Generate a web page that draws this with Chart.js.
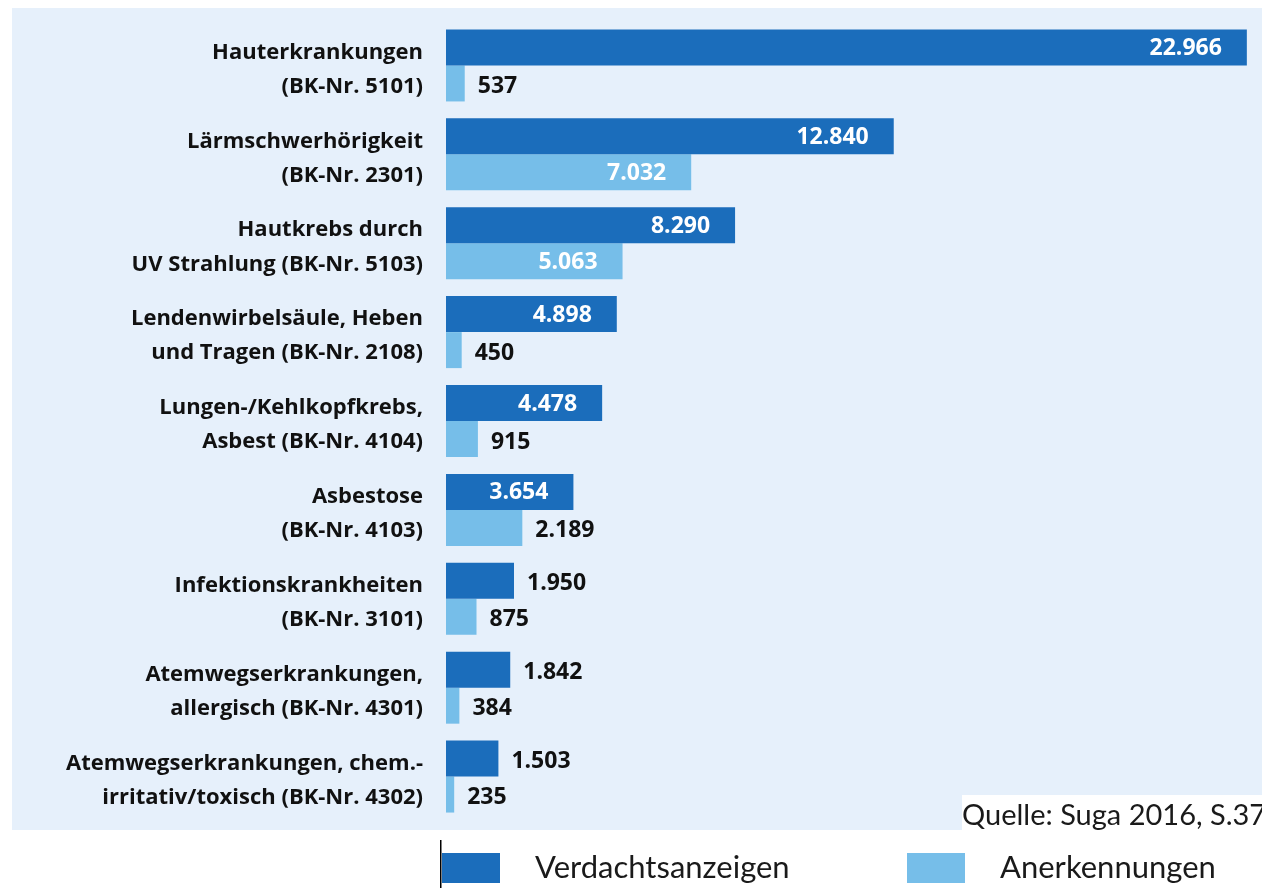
<!DOCTYPE html>
<html>
<head>
<meta charset="utf-8">
<script src="https://cdn.jsdelivr.net/npm/chart.js@4"></script>
<style>
  body { margin: 0; background: #fff; }
  #wrap { width: 1262px; height: 888px; }
</style>
</head>
<body>
<div id="wrap"><canvas id="myChart" width="1262" height="888"></canvas></div>
<script>
'use strict';

// data

let categories = [
  ['Hauterkrankungen', '(BK-Nr. 5101)'],
  ['Lärmschwerhörigkeit', '(BK-Nr. 2301)'],
  ['Hautkrebs durch', 'UV Strahlung (BK-Nr. 5103)'],
  ['Lendenwirbelsäule, Heben', 'und Tragen (BK-Nr. 2108)'],
  ['Lungen-/Kehlkopfkrebs,', 'Asbest (BK-Nr. 4104)'],
  ['Asbestose', '(BK-Nr. 4103)'],
  ['Infektionskrankheiten', '(BK-Nr. 3101)'],
  ['Atemwegserkrankungen,', 'allergisch (BK-Nr. 4301)'],
  ['Atemwegserkrankungen, chem.-', 'irritativ/toxisch (BK-Nr. 4302)']
];
let verdachtsanzeigen = [22966, 12840, 8290, 4898, 4478, 3654, 1950, 1842, 1503];
let anerkennungen = [537, 7032, 5063, 450, 915, 2189, 875, 384, 235];
let seriesNames = ['Verdachtsanzeigen', 'Anerkennungen'];
let sourceText = 'Quelle: Suga 2016, S.37';

// colours

let darkBlue = '#1b6dbb';
let lightBlue = '#76bee9';
let panelColor = '#e6f0fb';
let boldFont = '"Open Sans", Lato, sans-serif';
let lightFont = 'Lato, "Open Sans", sans-serif';

// plugins

let panelPlugin = {
  id: 'panel',
  beforeDraw(chart) {
    let c = chart.ctx;
    c.save();
    c.fillStyle = '#ffffff';
    c.fillRect(0, 0, chart.width, chart.height);
    c.fillStyle = panelColor;
    c.fillRect(12, 8, chart.width - 12, 822);
    c.restore();
  },
  afterDraw(chart) {
    let c = chart.ctx;
    c.save();
    // source box
    c.fillStyle = '#ffffff';
    c.fillRect(962, 795, chart.width - 962, 35);
    c.fillStyle = '#1a1a1a';
    c.font = '29px ' + lightFont;
    c.textBaseline = 'middle';
    c.textAlign = 'left';
    c.fillText(sourceText, 962, 816);
    // legend
    c.fillStyle = '#000';
    c.fillRect(440, 840, 1.5, 48);
    let legendX = [442, 907];
    chart.data.datasets.forEach((ds, i) => {
      c.fillStyle = ds.backgroundColor;
      c.fillRect(legendX[i], 853, 58, 30);
      c.fillStyle = '#1a1a1a';
      c.font = '31px ' + lightFont;
      c.fillText(ds.label, legendX[i] + 93, 868);
    });
    c.restore();
  }
};

let valueLabelPlugin = {
  id: 'valueLabels',
  afterDatasetsDraw(chart) {
    let c = chart.ctx;
    c.save();
    c.font = 'bold 23px ' + boldFont;
    c.textBaseline = 'middle';
    chart.data.datasets.forEach((ds, i) => {
      let meta = chart.getDatasetMeta(i);
      meta.data.forEach((bar, j) => {
        let text = ds.data[j].toLocaleString('de-DE');
        let width = bar.x - bar.base;
        if (width > 100) {
          c.fillStyle = '#ffffff';
          c.textAlign = 'right';
          c.fillText(text, bar.x - 25, bar.y + 1);
        } else {
          c.fillStyle = '#111111';
          c.textAlign = 'left';
          c.fillText(text, bar.x + 13, bar.y + 3);
        }
      });
    });
    c.restore();
  }
};

// chart

const ctx = document.getElementById('myChart');
const config = {
  type: 'bar',
  data: {
    labels: categories,
    datasets: [
      {
        label: seriesNames[0],
        data: verdachtsanzeigen,
        backgroundColor: darkBlue,
        categoryPercentage: 0.81,
        barPercentage: 1.0
      },
      {
        label: seriesNames[1],
        data: anerkennungen,
        backgroundColor: lightBlue,
        categoryPercentage: 0.81,
        barPercentage: 1.0
      }
    ]
  },
  options: {
    indexAxis: 'y',
    responsive: false,
    animation: false,
    layout: {
      padding: { top: 21, bottom: 67, left: 0, right: 7 }
    },
    plugins: {
      legend: { display: false },
      tooltip: { enabled: false }
    },
    scales: {
      x: {
        display: false,
        min: 0,
        max: 23200
      },
      y: {
        afterFit(scale) {
          scale.width = 446;
          scale.paddingTop = 0;
          scale.paddingBottom = 0;
        },
        grid: { display: false, drawTicks: false },
        border: { display: false },
        ticks: {
          color: '#111111',
          padding: 23,
          labelOffset: 4,
          font: { family: boldFont, size: 22, weight: 'bold', lineHeight: 1.55 }
        }
      }
    }
  },
  plugins: [panelPlugin, valueLabelPlugin]
};
new Chart(ctx, config);
</script>
</body>
</html>
